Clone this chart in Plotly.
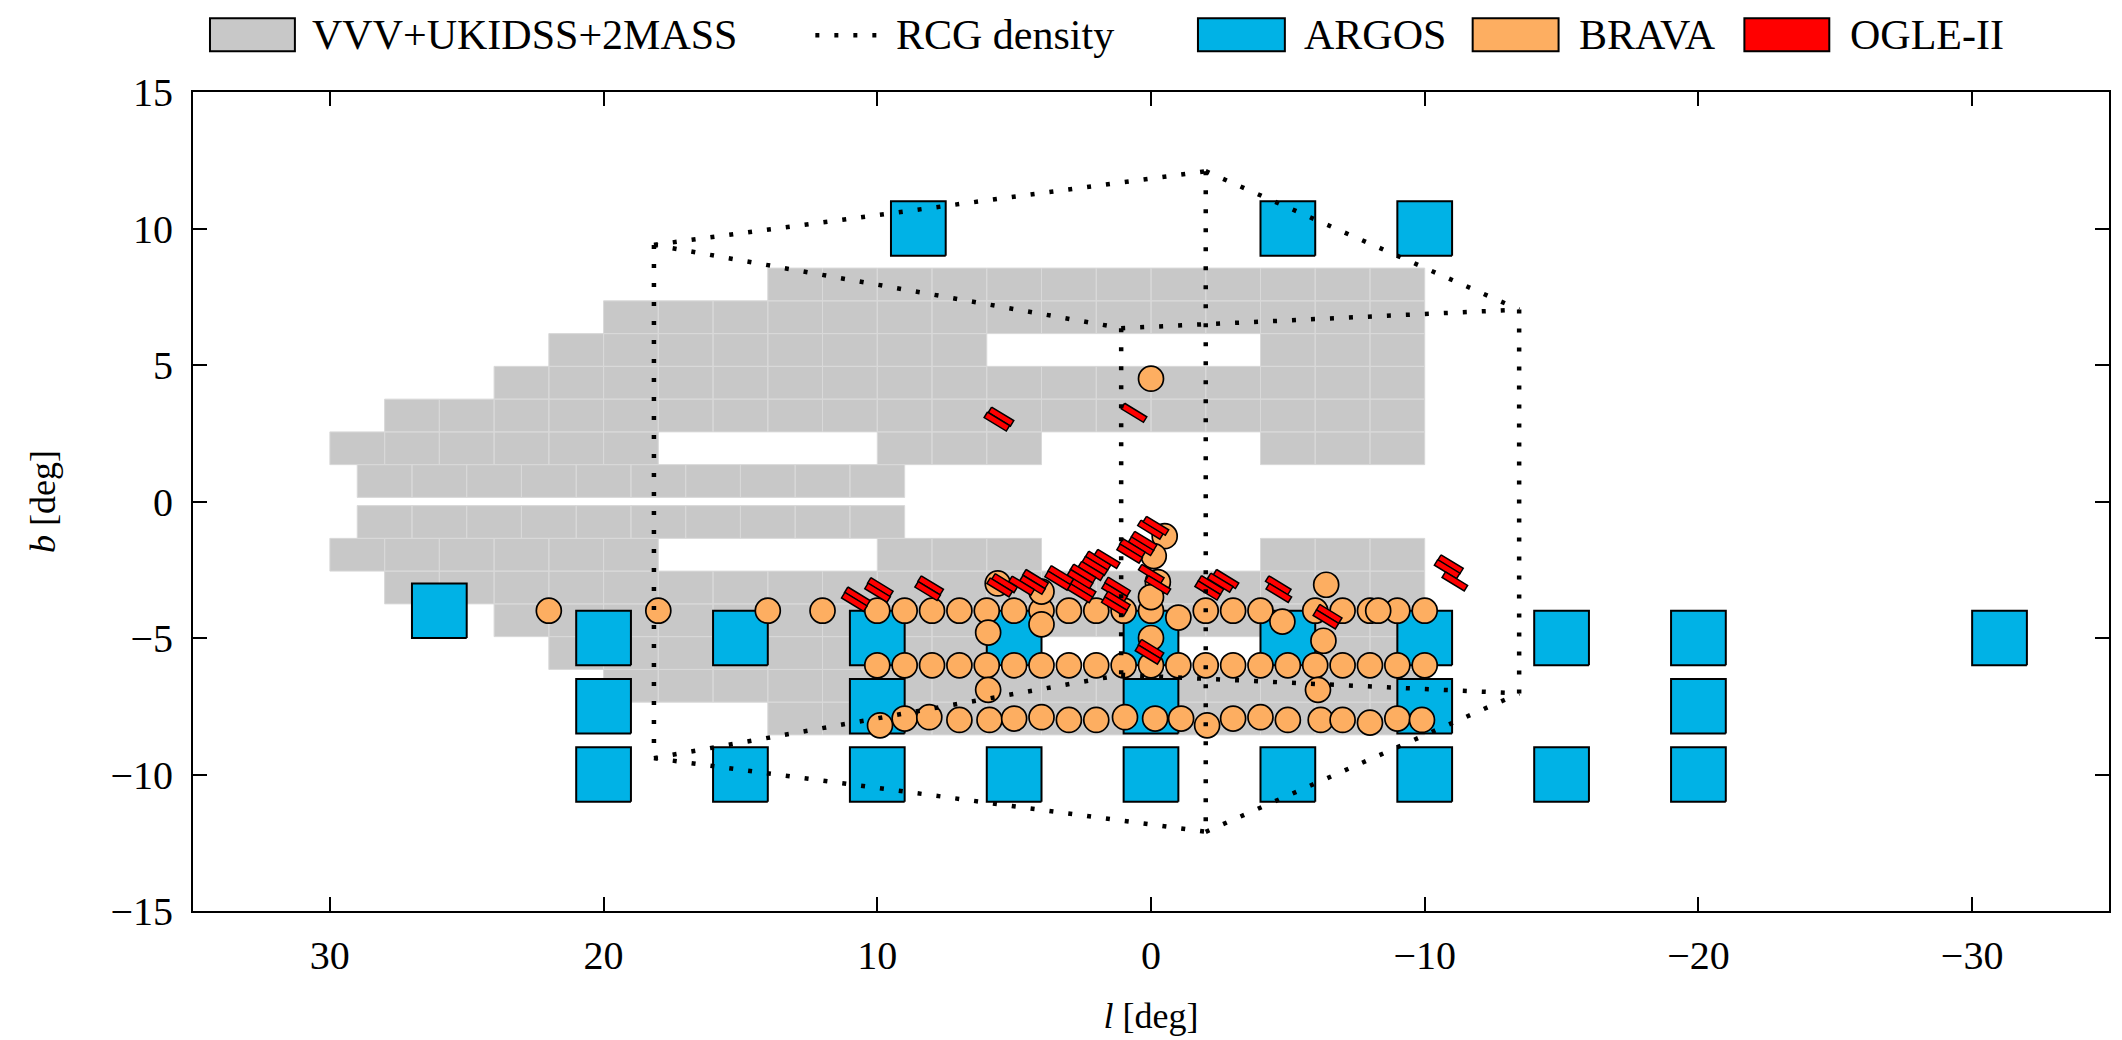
import numpy as np
import plotly.graph_objects as go

# ---------------- data ----------------
# VVV+UKIDSS+2MASS coverage: rows of 2-deg wide tiles (upper half, mirrored to b<0)
tile_row_b = [(0.15, 1.35), (1.35, 2.55), (2.55, 3.75), (3.75, 4.95),
              (4.95, 6.15), (6.15, 7.35), (7.35, 8.55)]
tile_row_spans = [
    [(29, 9)],
    [(30, 18), (10, 4), (-4, -10)],
    [(28, -10)],
    [(24, -10)],
    [(22, 6), (-4, -10)],
    [(20, -10)],
    [(14, -10)],
]
tile_width = 2.0

# RCG density outline: near-side vertices (b>0), mirrored for b<0
rcg_vertex_l = [18.16, -2.0, -13.45, 1.09]
rcg_vertex_b = [9.4, 12.1, 7.03, 6.35]
rcg_edges = [(0, 1), (1, 2), (0, 3), (3, 2)]

# ARGOS fields (2x2 deg)
argos_l = [8.5, -5, -10,
           26,
           20, 15, 10, 5, 0, -5, -10, -15, -20, -31,
           20, 10, 0, -10, -20,
           20, 15, 10, 5, 0, -5, -10, -15, -20]
argos_b = [10, 10, 10,
           -4,
           -5, -5, -5, -5, -5, -5, -5, -5, -5, -5,
           -7.5, -7.5, -7.5, -7.5, -7.5,
           -10, -10, -10, -10, -10, -10, -10, -10, -10]
argos_size = 2.0

# BRAVA fields
brava_l = [22, 18, 14, 12, 10, 9, 8, 7, 6, 5, 4, 3, 2, 1, 0, -1, -2, -3, -4, -4.8,
           -6, -7, -8, -9, -10,
           10, 9, 8, 7, 6, 5, 4, 3, 2, 1, 0, -1, -2, -3, -4, -5, -6, -7, -8, -9, -10,
           9.9, 9, 8.1, 7, 5.9, 5, 4, 3, 2, 0.95, -0.15, -1.1, -2.05, -3, -4, -5,
           -6.2, -7, -8, -9, -9.9,
           5.6, 4, 4, 5.95, 5.95, -0.5, -0.1, -0.25, 0, 0, -6.4, -6.3, -6.1, -8.3, 0]
brava_b = [-4, -4, -4, -4, -4, -4, -4, -4, -4, -4, -4, -4, -4, -4, -4, -4.25, -4, -4, -4, -4.4,
           -4, -4, -4, -4, -4,
           -6, -6, -6, -6, -6, -6, -6, -6, -6, -6, -6, -6, -6, -6, -6, -6, -6, -6, -6, -6, -6,
           -8.2, -7.95, -7.9, -8, -8, -7.95, -7.9, -8, -8, -7.9, -7.95, -7.95, -8.2, -7.95, -7.9, -8,
           -8, -8, -8.1, -7.95, -8,
           -3.0, -3.3, -4.5, -4.8, -6.9, -1.27, -2.0, -2.95, -3.5, -5.0, -3.05, -5.1, -6.9, -4.0, 4.5]

# OGLE-II fields (centres of the drawn rectangles)
ogle_l = [1.33, 2.48, 0.36, 0.68, 0.02, 0.00, 0.11, 10.73, 10.84, 9.89, 9.99, 8.05, 8.16,
          5.48, 5.63, 5.35, 5.53, 4.22, 4.33, 1.93, 2.05, -0.01, -0.25, -2.19, -2.07,
          -4.65, -4.67, -6.51, -6.39, 2.19, 2.48, 2.59, 2.60, 1.60, 3.30, 3.41, 0.25,
          1.22, 0.78, -2.74, -2.53, 4.73, 0.62, -0.18, 1.23, 1.34, -10.94, -10.82, -11.10]
ogle_b = [-3.32, -3.16, -1.63, -1.71, -1.03, -5.40, -5.61, -3.48, -3.68, -3.14, -3.34, -3.07, -3.28,
          3.11, 2.93, -2.99, -3.15, -2.84, -3.05, -2.17, -2.36, -2.65, -3.06, -3.06, -3.26,
          -3.07, -3.35, -4.12, -4.32, -2.54, -2.64, -2.84, -3.36, -2.10, -2.70, -2.90, -1.44,
          -3.12, -1.91, -2.84, -2.97, -3.08, 3.25, -0.89, -3.64, -3.84, -2.30, -2.48, -2.93]
ogle_length = 0.95
ogle_width = 0.237
ogle_angle_deg = 31.4

x_ticks = [30, 20, 10, 0, -10, -20, -30]
y_ticks = [-15, -10, -5, 0, 5, 10, 15]

legend_labels = ["VVV+UKIDSS+2MASS", "RCG density", "ARGOS", "BRAVA", "OGLE-II"]

# ---------------- styles ----------------
GREY = "#c8c8c8"
BLUE = "#00b2e6"
ORANGE = "#fdae61"
RED = "#ff0000"
FONT = "Liberation Serif"
DOT_DASH = "4px,15px"

W, H = 2122, 1040
ML, MR, MT, MB = 193, 11, 92, 125


def rect_path(l0, l1, b0, b1):
    return [l0, l1, l1, l0, l0, None], [b0, b0, b1, b1, b0, None]


fig = go.Figure()

# survey tiles
tx, ty = [], []
for (b0, b1), spans in zip(tile_row_b, tile_row_spans):
    for start, stop in spans:
        l = start
        while l > stop + 1e-9:
            for sgn in (1, -1):
                xs, ys = rect_path(l, l - tile_width, sgn * b0, sgn * b1)
                tx += xs
                ty += ys
            l -= tile_width
fig.add_trace(go.Scatter(x=tx, y=ty, mode="lines", fill="toself", fillcolor=GREY,
                         line=dict(color="#d9d9d9", width=1), hoverinfo="skip",
                         showlegend=False))

# ARGOS squares
ax_, ay_ = [], []
h = argos_size / 2
for l, b in zip(argos_l, argos_b):
    xs, ys = rect_path(l - h, l + h, b - h, b + h)
    ax_ += xs
    ay_ += ys
fig.add_trace(go.Scatter(x=ax_, y=ay_, mode="lines", fill="toself", fillcolor=BLUE,
                         line=dict(color="black", width=2), hoverinfo="skip",
                         showlegend=False))

# BRAVA circles
fig.add_trace(go.Scatter(x=brava_l, y=brava_b, mode="markers",
                         marker=dict(symbol="circle", size=25, color=ORANGE,
                                     line=dict(color="black", width=1.7)),
                         hoverinfo="skip", showlegend=False))

# OGLE-II tilted rectangles
th = np.radians(ogle_angle_deg)
u = np.array([np.cos(th), np.sin(th)]) * ogle_length / 2
v = np.array([-np.sin(th), np.cos(th)]) * ogle_width / 2
for l, b in zip(ogle_l, ogle_b):
    c = np.array([l, b])
    pts = [c + u + v, c - u + v, c - u - v, c + u - v, c + u + v]
    fig.add_trace(go.Scatter(x=[p[0] for p in pts], y=[p[1] for p in pts], mode="lines",
                             fill="toself", fillcolor=RED,
                             line=dict(color="black", width=1.5), hoverinfo="skip",
                             showlegend=False))

# RCG density outline (dotted)
rx, ry = [], []
for sgn in (1, -1):
    for i, j in rcg_edges:
        rx += [rcg_vertex_l[i], rcg_vertex_l[j], None]
        ry += [sgn * rcg_vertex_b[i], sgn * rcg_vertex_b[j], None]
for i in range(len(rcg_vertex_l)):
    rx += [rcg_vertex_l[i], rcg_vertex_l[i], None]
    ry += [rcg_vertex_b[i], -rcg_vertex_b[i], None]
fig.add_trace(go.Scatter(x=rx, y=ry, mode="lines",
                         line=dict(color="black", width=4.5, dash=DOT_DASH),
                         hoverinfo="skip", showlegend=False))


# ---------------- legend (drawn above the axes) ----------------
def px(xp):
    return (xp - ML) / (W - ML - MR)


def py(yp):
    return (H - MB - yp) / (H - MT - MB)


leg_y0, leg_y1, leg_yc = 18, 51, 35
patch_x = [(210, 295), None, (1199, 1286), (1474, 1560), (1746, 1831)]
patch_col = [GREY, None, BLUE, ORANGE, RED]
text_x = [310, 895, 1303, 1578, 1850]
shapes = []
for k, lab in enumerate(legend_labels):
    if patch_x[k] is not None:
        x0, x1 = patch_x[k]
        shapes.append(dict(type="rect", xref="paper", yref="paper",
                           x0=px(x0), x1=px(x1), y0=py(leg_y1), y1=py(leg_y0),
                           fillcolor=patch_col[k], line=dict(color="black", width=2)))
    fig.add_annotation(text=lab, xref="paper", yref="paper", x=px(text_x[k]), y=py(leg_yc),
                       xanchor="left", yanchor="middle", showarrow=False,
                       font=dict(family=FONT, size=42, color="black"))
shapes.append(dict(type="line", xref="paper", yref="paper",
                   x0=px(816), x1=px(882), y0=py(leg_yc), y1=py(leg_yc),
                   line=dict(color="black", width=4.5, dash=DOT_DASH)))

axis_common = dict(showline=True, linewidth=2, linecolor="black", mirror="ticks",
                   ticks="inside", ticklen=14, tickwidth=2, tickcolor="black",
                   showgrid=False, zeroline=False,
                   tickfont=dict(family=FONT, size=40, color="black"))

fig.update_layout(
    width=W, height=H,
    margin=dict(l=ML, r=MR, t=MT, b=MB),
    paper_bgcolor="white", plot_bgcolor="white",
    shapes=shapes,
    xaxis=dict(range=[35, -35], tickvals=x_ticks, ticklabelstandoff=8,
               title=dict(text="<i>l</i> [deg]", standoff=26,
                          font=dict(family=FONT, size=36, color="black")),
               **axis_common),
    yaxis=dict(range=[-15, 15], tickvals=y_ticks, ticklabelstandoff=10,
               title=dict(text="<i>b</i> [deg]", standoff=44,
                          font=dict(family=FONT, size=36, color="black")),
               **axis_common),
    showlegend=False,
)

fig.write_html("out.html", config={"displayModeBar": False})
